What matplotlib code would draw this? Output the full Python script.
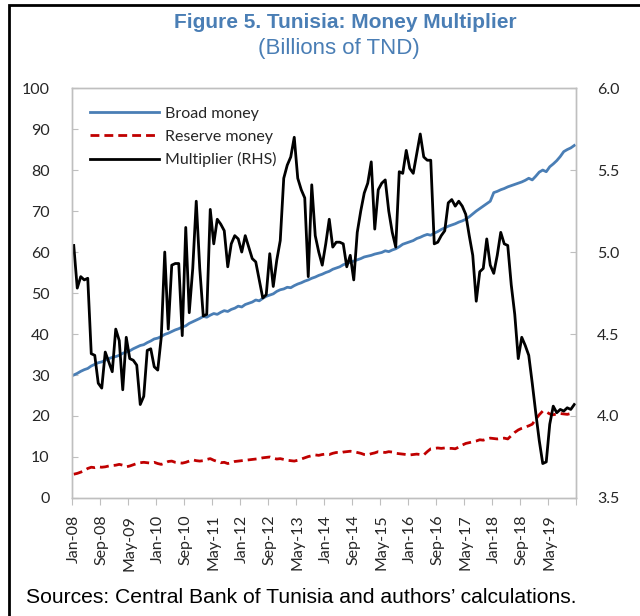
import numpy as np
import matplotlib
matplotlib.use("Agg")
from matplotlib import pyplot as plt
from matplotlib.patches import Rectangle

# monthly labels Jan-08 .. Dec-19
months = ["Jan", "Feb", "Mar", "Apr", "May", "Jun", "Jul", "Aug", "Sep", "Oct", "Nov", "Dec"]
dates = [m + "-" + str(y)[2:] for y in range(2008, 2020) for m in months]

broad_money = [
    30.0, 30.4, 30.9, 31.3, 31.6, 32.2, 32.6, 33.0, 33.2, 33.6, 34.0, 34.3,
    34.5, 34.8, 35.3, 35.6, 35.9, 36.4, 36.8, 37.2, 37.4, 37.9, 38.3, 38.8,
    39.0, 39.4, 39.9, 40.2, 40.6, 41.0, 41.3, 41.7, 42.0, 42.6, 43.0, 43.4,
    43.8, 44.3, 44.1, 44.6, 45.0, 44.8, 45.3, 45.7, 45.5, 46.0, 46.3, 46.8,
    46.6, 47.2, 47.5, 47.8, 48.3, 48.1, 48.7, 49.2, 49.5, 49.8, 50.4, 50.8,
    51.0, 51.4, 51.3, 51.8, 52.2, 52.5, 52.9, 53.2, 53.6, 53.9, 54.3, 54.6,
    55.0, 55.3, 55.8, 56.1, 56.4, 56.9, 57.2, 57.5, 57.8, 58.1, 58.4, 58.8,
    59.0, 59.2, 59.5, 59.7, 59.9, 60.3, 60.1, 60.5, 60.8, 61.3, 61.9, 62.2,
    62.5, 62.8, 63.3, 63.6, 64.0, 64.3, 64.1, 64.6, 65.0, 65.5, 65.9, 66.3,
    66.6, 66.9, 67.3, 67.6, 68.0, 68.6, 69.3, 70.0, 70.6, 71.2, 71.8, 72.4,
    74.5, 74.8, 75.2, 75.5, 75.9, 76.2, 76.5, 76.8, 77.1, 77.5, 78.0, 77.6,
    78.5, 79.5, 80.0, 79.6, 80.8, 81.5, 82.3, 83.3, 84.5, 85.0, 85.4, 86.0,
]

reserve_money = [
    5.8, 6.0, 6.3, 6.7, 7.2, 7.5, 7.4, 7.6, 7.5, 7.6, 7.8, 7.9,
    8.0, 8.2, 8.0, 7.6, 7.8, 8.1, 8.4, 8.6, 8.7, 8.6, 8.5, 8.7,
    8.4, 8.2, 8.5, 8.9, 9.0, 8.7, 8.6, 8.5, 8.7, 9.0, 9.3, 9.1,
    9.0, 9.1, 9.4, 9.6, 9.2, 8.9, 8.6, 8.7, 8.4, 8.6, 8.9, 9.0,
    9.1, 9.2, 9.3, 9.4, 9.5, 9.6, 9.8, 9.9, 10.0, 9.7, 9.5, 9.6,
    9.4, 9.2, 9.1, 9.0, 9.2, 9.5, 9.8, 10.1, 10.3, 10.5, 10.4, 10.6,
    10.7, 10.6, 10.9, 11.1, 11.0, 11.2, 11.3, 11.4, 11.3, 11.1, 10.9, 10.6,
    10.5, 10.8, 11.0, 11.3, 11.2, 11.1, 11.3, 11.2, 10.9, 10.8, 10.7, 10.6,
    10.5, 10.6, 10.7, 10.6, 10.5, 11.3, 12.0, 12.1, 12.2, 12.1, 12.2, 12.1,
    12.1, 12.0, 12.4, 12.9, 13.3, 13.5, 13.7, 13.9, 14.2, 14.1, 14.4, 14.6,
    14.5, 14.4, 14.5, 14.6, 14.4, 15.2, 16.0, 16.6, 17.0, 17.3, 17.6, 18.0,
    19.2, 20.3, 21.2, 21.0, 20.5, 20.3, 20.5, 20.6, 20.5, 20.4, 20.6, 20.6,
]

multiplier = [
    5.04, 4.78, 4.85, 4.83, 4.84, 4.38, 4.37, 4.20, 4.17, 4.39, 4.33, 4.27,
    4.53, 4.46, 4.16, 4.48, 4.35, 4.34, 4.31, 4.07, 4.12, 4.40, 4.41, 4.30,
    4.28, 4.48, 5.00, 4.53, 4.92, 4.93, 4.93, 4.49, 5.15, 4.63, 4.90, 5.31,
    4.90, 4.61, 4.62, 5.26, 5.05, 5.20, 5.17, 5.13, 4.91, 5.05, 5.10, 5.08,
    5.00, 5.10, 5.03, 4.96, 4.94, 4.83, 4.72, 4.74, 4.99, 4.79, 4.95, 5.07,
    5.45, 5.53, 5.58, 5.70, 5.45, 5.38, 5.33, 4.85, 5.41, 5.10, 5.00, 4.92,
    5.05, 5.20, 5.03, 5.06, 5.06, 5.05, 4.91, 4.98, 4.83, 5.12, 5.25, 5.36,
    5.42, 5.55, 5.14, 5.38, 5.42, 5.44, 5.25, 5.12, 5.03, 5.49, 5.48, 5.62,
    5.51, 5.48, 5.60, 5.72, 5.58, 5.56, 5.56, 5.05, 5.06, 5.10, 5.13, 5.30,
    5.32, 5.28, 5.31, 5.28, 5.23, 5.10, 4.98, 4.70, 4.88, 4.90, 5.08, 4.92,
    4.87, 4.98, 5.12, 5.05, 5.04, 4.80, 4.62, 4.35, 4.48, 4.43, 4.37, 4.20,
    4.02, 3.85, 3.71, 3.72, 3.95, 4.06, 4.02, 4.04, 4.03, 4.05, 4.04, 4.07,
]

blue = "#4A7EB5"
red = "#C00000"
grey = "#BFBFBF"
txt = "#262626"
tick_font = "Lato"

fig = plt.figure(figsize=(6.4, 6.16), dpi=100)
ax = fig.add_axes([0.1125, 0.1916, 0.7875, 0.6654])
ax2 = ax.twinx()

x = np.arange(len(dates))
l1, = ax.plot(x, broad_money, color=blue, lw=2.0, label="Broad money")
l2, = ax.plot(x, reserve_money, color=red, lw=2.0, ls=(0, (3.2, 1.8)), label="Reserve money")
l3, = ax2.plot(x, multiplier, color="black", lw=2.0, label="Multiplier (RHS)")

ax.set_xlim(-0.5, len(dates) - 0.5)
ax.set_ylim(0, 100)
ax2.set_ylim(3.5, 6.0)

ax.set_yticks(range(0, 101, 10))
ax2.set_yticks(np.arange(3.5, 6.01, 0.5))
ax2.set_yticklabels(["%.1f" % v for v in np.arange(3.5, 6.01, 0.5)])

# ticks between categories, labels on every 8th month
ax.set_xticks(np.arange(-0.5, len(dates), 8))
ax.set_xticklabels([])
ax.set_xticks(x[::8], minor=True)
ax.set_xticklabels(dates[::8], minor=True, rotation=90, fontsize=11.5, family=tick_font, color=txt)
ax.tick_params(axis="x", which="major", direction="out", length=5, color=grey)
ax.tick_params(axis="x", which="minor", length=0, pad=12)
ax.tick_params(axis="y", direction="in", length=4, color=grey, labelsize=11.5, pad=16, labelcolor=txt)
ax2.tick_params(axis="y", direction="in", length=4, color=grey, labelsize=11.5, pad=15, labelcolor=txt)
for lab in ax.get_yticklabels() + ax2.get_yticklabels():
    lab.set_family(tick_font)

for a in (ax, ax2):
    for s in a.spines.values():
        s.set_color(grey)
        s.set_linewidth(1.0)

ax2.legend(handles=[l1, l2, l3], loc="upper left", frameon=False,
           prop={"family": tick_font, "size": 11.5}, handlelength=4.3,
           handletextpad=0.35, labelspacing=0.55, bbox_to_anchor=(0.0, 1.0),
           borderaxespad=0.75, labelcolor=txt)

fig.text(0.54, 1 - 28 / 616, "Figure 5. Tunisia: Money Multiplier", ha="center", va="baseline",
         fontsize=15, fontweight="bold", color=blue, family="Liberation Sans")
fig.text(0.53, 1 - 54 / 616, "(Billions of TND)", ha="center", va="baseline",
         fontsize=16, color=blue, family="Liberation Sans")
fig.text(0.04, 1 - 603 / 616, "Sources: Central Bank of Tunisia and authors\u2019 calculations.",
         ha="left", va="baseline", fontsize=15.2, family="Liberation Sans")

# frame around the figure
fig.patches.append(Rectangle((0.0140, -0.05), 1.2, 1.0419, transform=fig.transFigure,
                             fill=False, edgecolor="black", lw=2.0))

fig.savefig("out.png", dpi=100)
